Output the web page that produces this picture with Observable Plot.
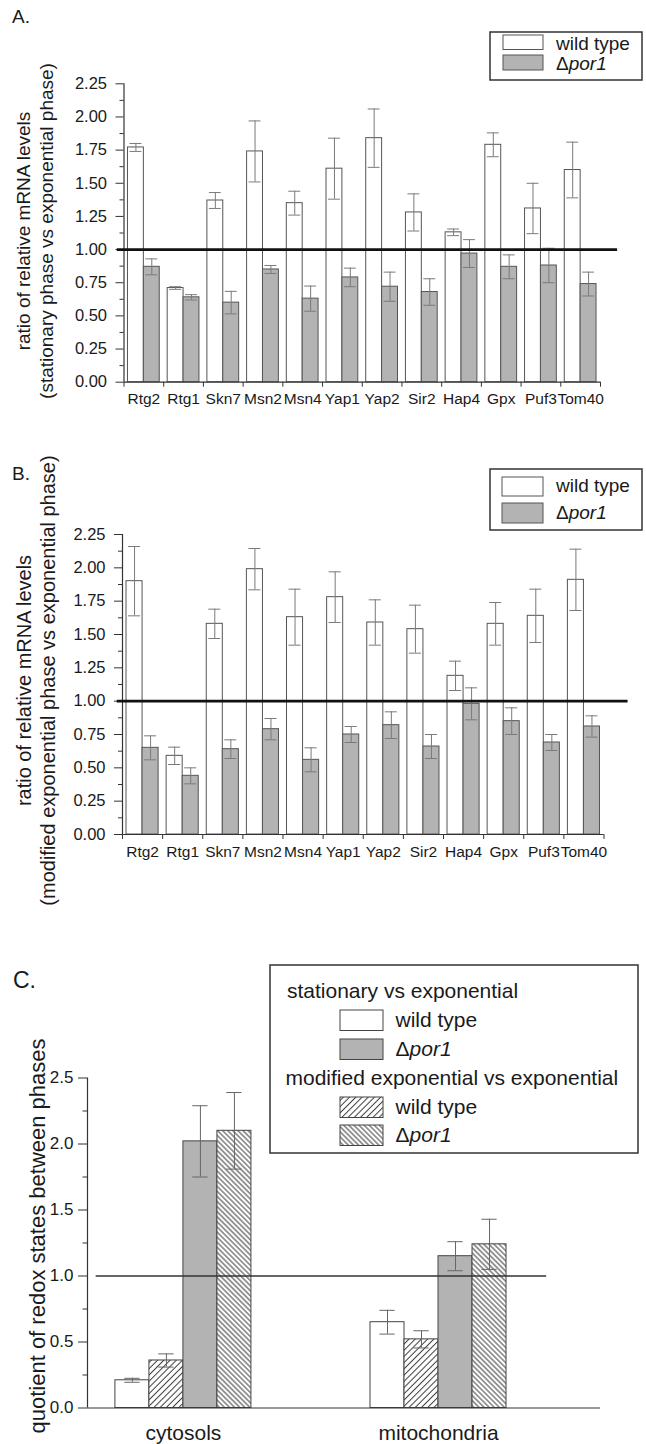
<!DOCTYPE html>
<html><head><meta charset="utf-8">
<script src="https://cdn.jsdelivr.net/npm/d3@7"></script>
<script src="https://cdn.jsdelivr.net/npm/@observablehq/plot@0.6"></script>
<style>
body{margin:0;background:#fff;}
#page{position:relative;width:646px;height:1444px;overflow:hidden;background:#fff;font-family:"Liberation Sans",Arial,sans-serif;color:#1a1a1a;}
</style></head><body><div id="page"></div>
<script>
// ---------- data ----------
const genes = ["Rtg2","Rtg1","Skn7","Msn2","Msn4","Yap1","Yap2","Sir2","Hap4","Gpx","Puf3","Tom40"];
// Panel A: stationary vs exponential
const aWild    = [1.77,0.71,1.37,1.74,1.35,1.61,1.84,1.28,1.13,1.79,1.31,1.60];
const aWildErr = [0.03,0.01,0.06,0.23,0.09,0.23,0.22,0.14,0.025,0.09,0.19,0.21];
const aPor     = [0.87,0.64,0.60,0.85,0.63,0.79,0.72,0.68,0.97,0.87,0.88,0.74];
const aPorErr  = [0.06,0.02,0.085,0.03,0.095,0.07,0.11,0.10,0.105,0.09,0.13,0.09];
// Panel B: modified exponential vs exponential
const bWild    = [1.90,0.59,1.58,1.99,1.63,1.78,1.59,1.54,1.19,1.58,1.64,1.91];
const bWildErr = [0.26,0.065,0.11,0.155,0.21,0.19,0.17,0.18,0.11,0.16,0.20,0.23];
const bPor     = [0.65,0.44,0.64,0.79,0.56,0.75,0.82,0.66,0.98,0.85,0.69,0.81];
const bPorErr  = [0.09,0.06,0.07,0.08,0.09,0.06,0.10,0.09,0.12,0.10,0.06,0.08];
// Panel C: redox-state quotients
const compartments = ["cytosols","mitochondria"];
const cSeries = ["wt stationary","wt modified","por1 stationary","por1 modified"];
const cValues = [[0.21,0.36,2.02,2.10],[0.65,0.52,1.15,1.24]];
const cErrors = [[0.015,0.05,0.27,0.29],[0.09,0.065,0.11,0.19]];
// tick labels
const yTicksAB = [0,0.25,0.5,0.75,1,1.25,1.5,1.75,2,2.25];
const yMinorAB = [0.125,0.375,0.625,0.875,1.125,1.375,1.625,1.875,2.125];
const yTicksC = [0,0.5,1,1.5,2,2.5];
const yMinorC = [0.25,0.75,1.25,1.75,2.25];
const yLabelA = "ratio of relative mRNA levels\n(stationary phase vs exponential phase)";
const yLabelB = "ratio of relative mRNA levels\n(modified exponential phase vs exponential phase)";
const yLabelC = "quotient of redox states between phases";
const legendWT = "wild type", legendPorPrefix = "Δ", legendPorItalic = "por1";
const legendHeadC = ["stationary vs exponential","modified exponential vs exponential"];

// ---------- styles ----------
const FONT = '"Liberation Sans", Arial, sans-serif';
const INK = "#1a1a1a";
const GRAY = "#b3b3b3";
const EDGE = "#555";
const ERR = "#7a7a7a";

const page = document.getElementById("page");
function place(el, top){ el.style.position="absolute"; el.style.left="0px"; el.style.top=top+"px"; page.appendChild(el); }

function genePanel(wild, wildErr, por, porErr, label, o){
  const rows = [];
  genes.forEach((g,i)=>{
    rows.push({g, s:"wild", v:wild[i], e:wildErr[i], x1:i+0.1, x2:i+0.5});
    rows.push({g, s:"por",  v:por[i],  e:porErr[i],  x1:i+0.5, x2:i+0.9});
  });
  const c = d => (d.x1+d.x2)/2;
  return Plot.plot({
    width:646, height:o.height,
    marginTop:o.mt, marginBottom:o.mb, marginLeft:o.ml, marginRight:o.mr,
    x:{type:"linear", domain:[0,12]},
    y:{domain:[0,2.25], label:null},
    style:{fontFamily:FONT, fontSize:"16px", color:INK, background:"transparent", overflow:"visible"},
    marks:[
      Plot.rectY(rows.filter(d=>d.s==="wild"), {x1:"x1", x2:"x2", y:"v", fill:"white", stroke:EDGE, strokeWidth:1}),
      Plot.rectY(rows.filter(d=>d.s==="por"), {x1:"x1", x2:"x2", y:"v", fill:GRAY, stroke:EDGE, strokeWidth:1}),
      Plot.ruleX(rows, {x:c, y1:d=>d.v-d.e, y2:d=>d.v+d.e, stroke:ERR, strokeWidth:1}),
      Plot.ruleY(rows, {y:d=>d.v+d.e, x1:d=>c(d)-0.15, x2:d=>c(d)+0.15, stroke:ERR, strokeWidth:1}),
      Plot.ruleY(rows, {y:d=>d.v-d.e, x1:d=>c(d)-0.15, x2:d=>c(d)+0.15, stroke:ERR, strokeWidth:1}),
      Plot.ruleX([0], {y1:0, y2:2.25, stroke:"#333", strokeWidth:1.2}),
      Plot.ruleY([0], {stroke:"#333", strokeWidth:1.2}),
      Plot.axisY({ticks:yTicksAB, tickSize:8, tickPadding:9, tickFormat:d3.format(".2f"), fontSize:16.5, label:null, stroke:"#333"}),
      Plot.axisY({ticks:yMinorAB, tickSize:4, tickFormat:()=>"", label:null, stroke:"#333"}),
      Plot.axisX({ticks:d3.range(13), tickSize:5, tickFormat:()=>"", label:null, stroke:"#333"}),
      Plot.axisX({ticks:genes.map((g,i)=>i+0.5), tickSize:0, tickPadding:11, tickFormat:d=>genes[Math.floor(d)], fontSize:15.5, label:null}),
      Plot.ruleY([1], {x1:o.refX1, x2:o.refX2, stroke:"#111", strokeWidth:2.6}),
      Plot.text([label], {frameAnchor:"left", textAnchor:"middle", dx:o.labelDx, dy:o.labelDy, rotate:-90, fontSize:o.labelFs, lineHeight:1.2, fill:INK})
    ]
  });
}

const plotA = genePanel(aWild, aWildErr, aPor, aPorErr, yLabelA,
  {height:425, mt:83.3, mb:43.3, ml:123.5, mr:46, refX1:-0.17, refX2:12.43, labelDx:-90, labelDy:-2, labelFs:19});
place(plotA, 0);
const plotB = genePanel(bWild, bWildErr, bPor, bPorErr, yLabelB,
  {height:450, mt:104, mb:46, ml:122, mr:42.5, refX1:-0.13, refX2:12.6, labelDx:-87, labelDy:-4, labelFs:20});
place(plotB, 430);

// Panel C
const bw = 0.1333;
const cRows = [];
compartments.forEach((comp,gi)=>{
  cSeries.forEach((s,k)=>{
    const x1 = gi+1+(k-2)*bw;
    cRows.push({comp, s, k, v:cValues[gi][k], e:cErrors[gi][k], x1, x2:x1+bw});
  });
});
const cc = d => (d.x1+d.x2)/2;
const cFills = ["white","url(#hatchFwd)",GRAY,"url(#hatchBack)"];
const cDomain = [0.624, 2.635];
const plotC = Plot.plot({
  width:646, height:564, marginTop:197.5, marginBottom:36.5, marginLeft:87, marginRight:46,
  x:{type:"linear", domain:cDomain},
  y:{domain:[0,2.5], label:null},
  style:{fontFamily:FONT, fontSize:"17px", color:INK, background:"transparent", overflow:"visible"},
  marks:[
    ...cFills.map((f,k)=>Plot.rectY(cRows.filter(d=>d.k===k), {x1:"x1", x2:"x2", y:"v", fill:f, stroke:"#444", strokeWidth:1})),
    Plot.ruleX(cRows, {x:cc, y1:d=>d.v-d.e, y2:d=>d.v+d.e, stroke:"#666", strokeWidth:1}),
    Plot.ruleY(cRows, {y:d=>d.v+d.e, x1:d=>cc(d)-0.03, x2:d=>cc(d)+0.03, stroke:"#666", strokeWidth:1}),
    Plot.ruleY(cRows, {y:d=>d.v-d.e, x1:d=>cc(d)-0.03, x2:d=>cc(d)+0.03, stroke:"#666", strokeWidth:1}),
    Plot.ruleX([cDomain[0]], {y1:0, y2:2.5, stroke:"#333", strokeWidth:1.2}),
    Plot.ruleY([0], {stroke:"#333", strokeWidth:1.2}),
    Plot.ruleY([1], {x1:0.658, x2:2.424, stroke:"#333", strokeWidth:1.3}),
    Plot.axisY({ticks:yTicksC, tickSize:9, tickPadding:5, tickFormat:d3.format(".1f"), label:null, stroke:"#333"}),
    Plot.axisY({ticks:yMinorC, tickSize:4.5, tickFormat:()=>"", label:null, stroke:"#333"}),
    Plot.axisX({ticks:[1,2], tickSize:0, tickPadding:17, tickFormat:d=>compartments[d-1], fontSize:21, label:null}),
    Plot.text([yLabelC], {frameAnchor:"left", textAnchor:"middle", dx:-50, dy:-7, rotate:-90, fontSize:22, fill:INK})
  ]
});
place(plotC, 880);

// ---------- overlay: panel letters, legends, hatch patterns ----------
const ov = d3.create("svg").attr("width",646).attr("height",1444)
  .style("position","absolute").style("left","0px").style("top","0px")
  .style("font-family",FONT).style("fill",INK);
const defs = ov.append("defs");
function hatch(id, size, angle){
  const p = defs.append("pattern").attr("id",id).attr("patternUnits","userSpaceOnUse")
    .attr("width",size).attr("height",size).attr("patternTransform",`rotate(${angle})`);
  p.append("rect").attr("width",size).attr("height",size).attr("fill","white");
  p.append("line").attr("x1",size/2).attr("x2",size/2).attr("y1",-1).attr("y2",size+1)
    .attr("stroke","#3a3a3a").attr("stroke-width",1);
}
hatch("hatchFwd", 4.4, 45);
hatch("hatchBack", 3.6, -45);

ov.append("text").attr("x",12).attr("y",23).attr("font-size",19).text("A.");
ov.append("text").attr("x",12).attr("y",480).attr("font-size",19).text("B.");
ov.append("text").attr("x",13).attr("y",988).attr("font-size",23).text("C.");

function porText(g, x, y, fs){
  const t = g.append("text").attr("x",x).attr("y",y).attr("font-size",fs);
  t.append("tspan").text(legendPorPrefix);
  t.append("tspan").attr("font-style","italic").text(legendPorItalic);
}
function simpleLegend(box, sw1, sw2, tx, base1, base2){
  ov.append("rect").attr("x",box[0]).attr("y",box[1]).attr("width",box[2]).attr("height",box[3])
    .attr("fill","white").attr("stroke","#333").attr("stroke-width",1.5);
  ov.append("rect").attr("x",sw1[0]).attr("y",sw1[1]).attr("width",sw1[2]).attr("height",sw1[3])
    .attr("fill","white").attr("stroke",EDGE);
  ov.append("rect").attr("x",sw2[0]).attr("y",sw2[1]).attr("width",sw2[2]).attr("height",sw2[3])
    .attr("fill",GRAY).attr("stroke",EDGE);
  ov.append("text").attr("x",tx).attr("y",base1).attr("font-size",19).text(legendWT);
  porText(ov, tx, base2, 19);
}
simpleLegend([490,32,152,48],[503,35,40,14.5],[503,55,40,15],556,50,69.5);
simpleLegend([490,469,152,61],[502,477,41,19],[502,503,41,20],556,492,519);

// legend C
ov.append("rect").attr("x",270).attr("y",965).attr("width",368).attr("height",188)
  .attr("fill","white").attr("stroke","#333").attr("stroke-width",1.5);
ov.append("text").attr("x",287).attr("y",998).attr("font-size",21).text(legendHeadC[0]);
ov.append("text").attr("x",285.5).attr("y",1085).attr("font-size",21).text(legendHeadC[1]);
const swC = [[1010,"white"],[1039,GRAY],[1097,"url(#hatchFwd)"],[1125,"url(#hatchBack)"]];
swC.forEach(([y,f])=>{
  ov.append("rect").attr("x",340).attr("y",y).attr("width",43).attr("height",20.5)
    .attr("fill",f).attr("stroke","#444");
});
ov.append("text").attr("x",395.5).attr("y",1027).attr("font-size",21).text(legendWT);
porText(ov, 395.5, 1055.5, 21);
ov.append("text").attr("x",395.5).attr("y",1113.5).attr("font-size",21).text(legendWT);
porText(ov, 395.5, 1142, 21);

page.appendChild(ov.node());
</script>
</body></html>
